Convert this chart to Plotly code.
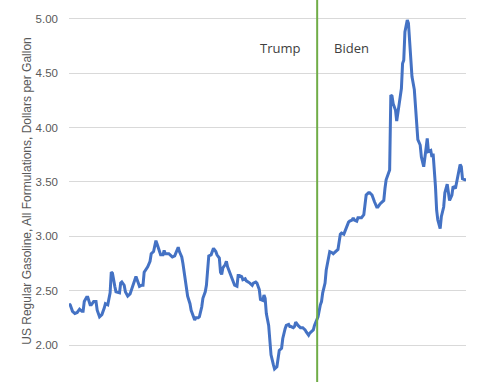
import pandas as pd
import plotly.graph_objects as go

# week offsets from 2017-01-02 and weekly US regular gasoline price ($/gal)
weeks = [0, 1, 3, 5, 7, 9, 11, 12, 13, 15, 16, 18, 19, 21, 23, 24, 26, 28, 30, 31,
         33, 35, 36, 37, 39, 40, 43, 44, 45, 47, 48, 50, 52, 54, 56, 57, 59, 60, 62, 63,
         64, 66, 67, 69, 70, 72, 73, 74, 75, 76, 78, 80, 81, 82, 84, 85, 87, 88, 90, 91,
         93, 94, 96, 97, 99, 100, 101, 103, 104, 106, 107, 108, 110, 111, 113, 114, 116, 117, 118, 119,
         121, 122, 123, 125, 126, 128, 129, 130, 131, 133, 134, 135, 137, 139, 141, 143, 144, 145, 147, 148,
         150, 151, 153, 154, 156, 157, 159, 160, 162, 163, 165, 166, 167, 168, 170, 171, 172, 174, 175, 177,
         178, 179, 181, 182, 184, 185, 187, 188, 189, 191, 192, 193, 195, 196, 197, 199, 201, 202, 204, 205,
         206, 208, 209, 211, 212, 214, 215, 216, 218, 219, 221, 222, 224, 225, 226, 228, 229, 231, 232, 234,
         235, 236, 238, 239, 241, 242, 243, 245, 246, 248, 249, 251, 252, 253, 255, 256, 258, 259, 260, 262,
         263, 265, 266, 268, 269, 270, 272, 273, 274, 275, 276, 278, 279, 280, 282, 283, 284, 285, 286, 288,
         289, 290, 291, 292, 294, 295, 296, 297, 299, 300, 302, 303, 304, 305, 306, 308, 309, 310, 311, 312,
         313, 314, 316, 317, 319, 320, 322, 323, 324, 326, 327, 329, 330, 332, 333, 334, 335, 337, 338]
prices = [2.38, 2.37, 2.31, 2.29, 2.30, 2.33, 2.31, 2.31, 2.40, 2.44, 2.44, 2.37, 2.37, 2.40, 2.40, 2.32, 2.26, 2.28, 2.34, 2.38,
          2.37, 2.48, 2.67, 2.66, 2.54, 2.49, 2.48, 2.57, 2.58, 2.55, 2.49, 2.45, 2.47, 2.54, 2.60, 2.63, 2.57, 2.54, 2.55, 2.55,
          2.67, 2.70, 2.72, 2.77, 2.84, 2.86, 2.92, 2.96, 2.93, 2.89, 2.83, 2.83, 2.87, 2.84, 2.84, 2.84, 2.82, 2.81, 2.82, 2.85,
          2.90, 2.86, 2.81, 2.75, 2.60, 2.54, 2.45, 2.38, 2.32, 2.26, 2.23, 2.25, 2.25, 2.26, 2.35, 2.43, 2.49, 2.55, 2.69, 2.82,
          2.83, 2.87, 2.89, 2.86, 2.83, 2.80, 2.67, 2.65, 2.71, 2.74, 2.77, 2.72, 2.66, 2.60, 2.55, 2.54, 2.64, 2.64, 2.63, 2.60,
          2.61, 2.59, 2.58, 2.57, 2.55, 2.57, 2.58, 2.57, 2.51, 2.42, 2.41, 2.46, 2.43, 2.29, 2.18, 2.05, 1.91, 1.82, 1.78, 1.80,
          1.86, 1.95, 1.97, 2.06, 2.15, 2.18, 2.19, 2.17, 2.17, 2.16, 2.17, 2.21, 2.18, 2.17, 2.16, 2.16, 2.14, 2.12, 2.09, 2.11,
          2.12, 2.14, 2.18, 2.23, 2.26, 2.37, 2.40, 2.48, 2.57, 2.69, 2.81, 2.86, 2.85, 2.84, 2.85, 2.87, 2.88, 3.02, 3.03, 3.02,
          3.05, 3.09, 3.13, 3.14, 3.15, 3.17, 3.15, 3.14, 3.17, 3.17, 3.17, 3.20, 3.27, 3.38, 3.40, 3.40, 3.38, 3.34, 3.32, 3.27,
          3.27, 3.30, 3.31, 3.33, 3.44, 3.52, 3.58, 3.61, 4.30, 4.29, 4.22, 4.16, 4.06, 4.13, 4.25, 4.36, 4.59, 4.62, 4.88, 4.99,
          4.96, 4.81, 4.65, 4.47, 4.35, 4.16, 4.01, 3.89, 3.84, 3.73, 3.64, 3.75, 3.81, 3.90, 3.78, 3.79, 3.73, 3.76, 3.63, 3.46,
          3.24, 3.15, 3.07, 3.18, 3.27, 3.40, 3.48, 3.42, 3.33, 3.38, 3.46, 3.44, 3.50, 3.60, 3.66, 3.64, 3.53, 3.52, 3.52]

start_date = "2017-01-02"
inauguration = "2021-01-20"
y_ticks = [2.00, 2.50, 3.00, 3.50, 4.00, 4.50, 5.00]

dates = pd.Timestamp(start_date) + pd.to_timedelta([w * 7 for w in weeks], unit="D")

fig = go.Figure()
fig.add_trace(go.Scatter(x=dates, y=prices, mode="lines",
                         line=dict(color="#4472C4", width=3), hoverinfo="skip"))

fig.add_shape(type="line", xref="x", yref="paper", x0=inauguration, x1=inauguration,
              y0=0, y1=1, line=dict(color="#70AD47", width=2))

label_y = 1 - 48.5 / 382
fig.add_annotation(text="Trump", x=inauguration, xref="x", xanchor="right", xshift=-15,
                   y=label_y, yref="paper", yanchor="middle", showarrow=False,
                   font=dict(family="Open Sans", size=13, color="#404040"))
fig.add_annotation(text="Biden", x=inauguration, xref="x", xanchor="left", xshift=15,
                   y=label_y, yref="paper", yanchor="middle", showarrow=False,
                   font=dict(family="Open Sans", size=13, color="#404040"))

fig.update_layout(
    width=480, height=382,
    margin=dict(l=69, r=14, t=0, b=0),
    paper_bgcolor="white", plot_bgcolor="white",
    showlegend=False,
    font=dict(family="Liberation Sans", color="#595959"),
)
fig.update_xaxes(range=[dates[0], dates[-1]], showgrid=False, showticklabels=False,
                 zeroline=False, showline=False, ticks="")
fig.update_yaxes(range=[1.66, 5.174], tickvals=y_ticks, tickformat=".2f",
                 showgrid=True, gridcolor="#D9D9D9", gridwidth=1, zeroline=False,
                 showline=False, ticks="", ticklabelstandoff=10,
                 tickfont=dict(size=11.5, color="#595959"),
                 title=dict(text="US Regular Gasoline, All Formulations, Dollars per Gallon",
                            font=dict(size=12, color="#595959"), standoff=1))

fig.write_html("out.html", config={"displayModeBar": False},
               post_script="document.body.style.margin='0';document.body.style.overflow='hidden';")
